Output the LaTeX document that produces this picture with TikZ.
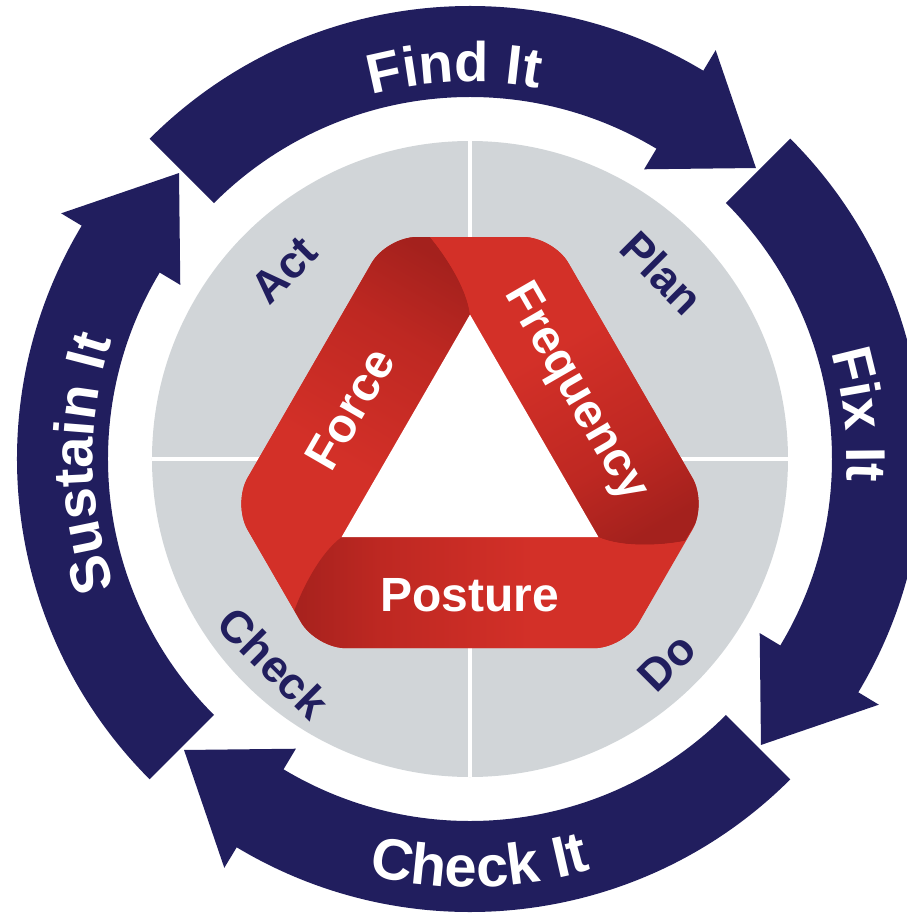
\documentclass[tikz,border=0pt]{standalone}
\usepackage{fontspec}
\setmainfont{Liberation Sans}
\usetikzlibrary{decorations.text,calc}
\definecolor{navy}{RGB}{33,30,94}
\definecolor{ringgray}{RGB}{209,213,216}
\definecolor{redL}{RGB}{211,48,40}
\definecolor{redM}{RGB}{190,40,34}
\definecolor{redD}{RGB}{164,33,29}
\pgfdeclarehorizontalshading{bandshade}{100bp}{color(0bp)=(redL); color(25bp)=(redL); color(44bp)=(redL); color(63bp)=(redM); color(75bp)=(redD); color(100bp)=(redD)}
\tikzset{
  ringtext/.style={decorate, decoration={text along path, text align=center, text color=white}},
  tritext/.style={text=white, font=\bfseries\fontsize{48}{50}\selectfont, inner sep=0pt},
  phase/.style={text=navy, font=\bfseries\fontsize{45}{47}\selectfont, inner sep=0pt},
  arrowfill/.style={fill=navy}
}
\begin{document}
\begin{tikzpicture}[x=1pt,y=1pt]
\useasboundingbox (-470,-455) rectangle (437,459);
% gray disc with quadrants
\fill[ringgray] (0,0) circle[radius=318];
\draw[white, line width=4pt] (-318,0) -- (318,0);
\draw[white, line width=4pt] (0,-318) -- (0,318);
% key points of the ribbon triangle
\coordinate (P1) at (-83.4,222);
\coordinate (P2) at (83.4,222);
\coordinate (P3) at (237.4,-44.8);
\coordinate (P4) at (154,-189.2);
\coordinate (P5) at (-154,-189.2);
\coordinate (P6) at (-237.4,-44.8);
\coordinate (It) at (0,144.4);
\coordinate (Ir) at (128.5,-78.2);
\coordinate (Il) at (-128.5,-78.2);
\coordinate (Ot) at (-40,222);
\coordinate (Or) at (214.9,-81.9);
\coordinate (Ol) at (-175.7,-151.6);
\coordinate (At) at (-25,204);
\coordinate (Bt) at (-3,171);
\coordinate (Ar) at (192.6,-86.35);
\coordinate (Br) at (153.05,-88.9);
\coordinate (Al) at (-167.6,-129.65);
\coordinate (Bl) at (-150.05,-94.1);
\begin{scope}
  \clip[rounded corners=30] (P1) -- (P2) -- (P3) -- (P4) -- (P5) -- (P6) -- cycle;
  \fill[redL] (-300,-300) rectangle (300,300);
  % Force band
  \shade[shading=bandshade, shading angle=60]
    (Ol) -- (P6) -- ++(-40,0) -- ($(P1)+(-40,40)$) -- (P1) -- (Ot) .. controls (At) and (Bt) .. (It) -- (Il) .. controls (Bl) and (Al) .. (Ol) -- cycle;
  % Frequency band
  \shade[shading=bandshade, shading angle=-60]
    (Ot) -- (P2) -- ($(P2)+(0,40)$) -- ($(P3)+(40,0)$) -- (P3) -- (Or) .. controls (Ar) and (Br) .. (Ir) -- (It) .. controls (Bt) and (At) .. (Ot) -- cycle;
  % Posture band
  \shade[shading=bandshade, shading angle=180]
    (Or) -- (P4) -- ($(P4)+(30,-40)$) -- ($(P5)+(-30,-40)$) -- (P5) -- (Ol) .. controls (Al) and (Bl) .. (Il) -- (Ir) .. controls (Br) and (Ar) .. (Or) -- cycle;
\end{scope}
\fill[white] (It) -- (Ir) -- (Il) -- cycle;
\node[tritext, rotate=60] (force) at (-120,50) {Force};
\node[tritext, rotate=-60] (freq) at (105,66) {Frequency};
\node[tritext] (posture) at (0,-136) {Posture};
% phase labels
\node[phase, rotate=45] (act) at (-186,189) {Act};
\node[phase, rotate=-45] (plan) at (192,186) {Plan};
\node[phase, rotate=45] (do) at (197,-203) {Do};
\node[phase, rotate=-45] (check) at (-196,-204) {Check};
% ring arrows
\foreach \t in {135,45,-45,-135} {
  \pgfmathsetmacro\b{\t-76}
  \pgfmathsetmacro\p{\t-89.5}
  \fill[arrowfill] (\t:453) arc[start angle=\t, end angle=\b, radius=453]
    -- (\b:477) -- (\p:408) -- (\b:338) -- (\b:362)
    arc[start angle=\b, end angle=\t, radius=362] -- cycle;
}
% ring labels
\path[ringtext, decoration={text={|\bfseries\fontsize{56}{60}\selectfont|Find It}}]
  (142.3:377) arc[start angle=142.3, end angle=42.3, radius=377];
\path[ringtext, decoration={text={|\bfseries\fontsize{56}{60}\selectfont|Fix It}}]
  (56.5:377) arc[start angle=56.5, end angle=-43.5, radius=377];
\path[ringtext, decoration={text={|\bfseries\fontsize{58}{62}\selectfont|Check It}}]
  (-138.6:428) arc[start angle=-138.6, end angle=-38.6, radius=428];
\path[ringtext, decoration={text={|\bfseries\fontsize{56}{60}\selectfont|Sustain It}}]
  (230.7:377) arc[start angle=230.7, end angle=130.7, radius=377];
\end{tikzpicture}
\end{document}
